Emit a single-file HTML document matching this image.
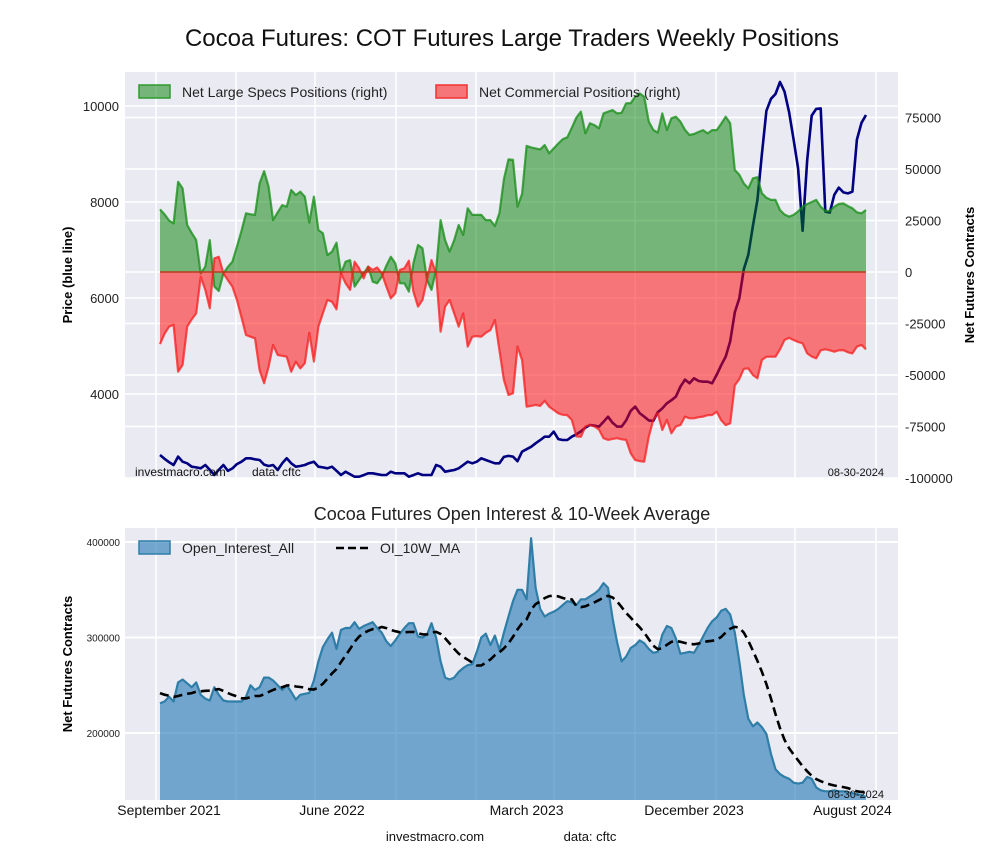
<!DOCTYPE html>
<html><head><meta charset="utf-8"><style>
body{margin:0;background:#fff;}
svg{display:block;font-family:"Liberation Sans",sans-serif;}
</style></head><body>
<svg id="c" width="1000" height="860" viewBox="0 0 1000 860">
<rect x="0" y="0" width="1000" height="860" fill="#fff"/>
<text x="512" y="46" font-size="24" text-anchor="middle" fill="#111">Cocoa Futures: COT Futures Large Traders Weekly Positions</text>
<rect x="125" y="72" width="773" height="406" fill="#eaeaf2"/>
<rect x="125" y="528" width="773" height="272" fill="#eaeaf2"/>
<g id="grid"></g>
<g id="topg"></g>
<g id="botg"></g>
<text x="72" y="275" font-size="13" font-weight="bold" text-anchor="middle" transform="rotate(-90 72 275)">Price (blue line)</text>
<text x="974" y="275" font-size="13" font-weight="bold" text-anchor="middle" transform="rotate(-90 974 275)">Net Futures Contracts</text>
<text x="72" y="664" font-size="13" font-weight="bold" text-anchor="middle" transform="rotate(-90 72 664)">Net Futures Contracts</text>
<text x="512" y="520" font-size="18" text-anchor="middle" fill="#222">Cocoa Futures Open Interest &amp; 10-Week Average</text>
<text x="135" y="476" font-size="12" fill="#111">investmacro.com</text>
<text x="252" y="476" font-size="12" fill="#111">data: cftc</text>
<text x="884" y="476" font-size="11" text-anchor="end" fill="#111">08-30-2024</text>
<text x="884" y="798" font-size="11" text-anchor="end" fill="#111">08-30-2024</text>
<text x="435" y="841" font-size="13" text-anchor="middle" fill="#111">investmacro.com</text>
<text x="590" y="841" font-size="13" text-anchor="middle" fill="#111">data: cftc</text>
<g>
<rect x="139" y="85" width="31" height="13" fill="rgba(0,128,0,0.5)" stroke="#2e9a2e" stroke-width="1.5"/>
<text x="182" y="97" font-size="14" fill="#222">Net Large Specs Positions (right)</text>
<rect x="436" y="85" width="31" height="13" fill="rgba(255,0,0,0.5)" stroke="#f03333" stroke-width="1.5"/>
<text x="479" y="97" font-size="14" fill="#222">Net Commercial Positions (right)</text>
</g>
<g>
<rect x="139" y="541" width="31" height="13" fill="rgba(31,119,180,0.6)" stroke="#2f7ea8" stroke-width="1.5"/>
<text x="182" y="553" font-size="14" fill="#222">Open_Interest_All</text>
<line x1="336" y1="548" x2="368" y2="548" stroke="#000" stroke-width="2.5" stroke-dasharray="8,4"/>
<text x="380" y="553" font-size="14" fill="#222">OI_10W_MA</text>
</g>
</svg>
<script>
const specs=[30.4,28,25,23.6,43.8,40.6,22.8,19,15.5,-0.7,2.6,15.5,-7.1,-9.2,-0.7,2.5,5,12.3,20,28.5,28,27.7,43,49,41.4,25.2,29,32.5,31.7,39.8,37.4,39,36.6,24,36.6,20.4,18.8,8.2,9.9,14.2,-0.7,5,5.8,-7.1,-3.9,-0.7,2.6,-4.7,-5.5,-2.3,3,7.4,4.2,-5.5,-5.5,-9.5,4.2,13.1,11.5,-3.9,-8.7,1,25.2,15.5,9.9,15.5,22.8,18,30.9,27.7,27.7,27.7,25.2,25.2,22.3,28.5,45,54.7,54.4,31.7,38,61.2,60.5,60,59.5,61.6,57.6,60,62.4,64.5,65.4,70,75,77.8,67.3,72.2,71.3,69.7,77,77.8,78.6,77,77.3,81.9,82,85.1,86.7,85.1,73,69,67.6,77,68.9,74.6,75.4,73,69,66.5,67,68,68.9,67.3,68.9,68.9,72,75.4,72.2,49.5,47.2,43,40.6,45.5,46,38.2,36,35,35,30.1,27.9,26.9,27.7,29.4,31.7,33,34,35,31.7,29.6,29.7,31.7,33,33.3,32,30.9,29,28.5,30.1];
const commercial=[-35,-30,-26.5,-25.7,-48.4,-45.1,-26.5,-23,-20.1,-2.3,-8.7,-17.6,6.6,7.4,-0.7,-4,-7.1,-13.6,-22,-30.6,-31.4,-32.2,-47.6,-54,-46,-35.4,-40.3,-40.7,-41.1,-48.4,-43.5,-46.8,-44.3,-29.5,-43.5,-26.5,-20,-13.6,-14.4,-18.1,-0.7,-5.5,-8.7,5,1.8,-3.1,2.6,1,2.2,-0.7,-7,-12.8,-10.4,1,1.8,5.5,-9.5,-16.8,-13.6,-3.9,5.8,-0.7,-29,-16.8,-13.6,-20.1,-26.5,-20.1,-36.2,-31.4,-31.1,-31.4,-29.5,-28.2,-23.3,-37.9,-52.4,-59.7,-58.9,-36.2,-42.7,-65.4,-65,-64.5,-65,-62.5,-65.4,-67,-68.6,-69.3,-69.5,-71.8,-79.8,-80,-75,-74.3,-75,-76.5,-80.7,-81.5,-81,-80.7,-81.2,-81.5,-88,-91.3,-91.8,-92.1,-79.9,-71.8,-68.6,-76.7,-71.8,-78.3,-75,-74.3,-70.2,-71,-71,-70.5,-70.2,-69.5,-69.4,-67.8,-72,-74.3,-73.5,-55,-52,-47,-46.8,-50,-51.6,-42.7,-41.1,-41.1,-41.1,-37.5,-33,-32,-33,-34,-34.6,-39.5,-41,-41.9,-38,-37.5,-38,-38.7,-38,-37.9,-39,-39.5,-36.2,-35.4,-37.5];
const price=[2730,2650,2580,2521,2695,2590,2556,2486,2470,2452,2521,2420,2313,2420,2521,2400,2450,2540,2590,2660,2660,2640,2625,2530,2500,2521,2417,2556,2660,2556,2486,2500,2521,2560,2590,2486,2470,2452,2486,2400,2313,2382,2330,2278,2278,2310,2348,2348,2330,2313,2313,2382,2348,2348,2348,2278,2310,2348,2313,2313,2313,2521,2486,2382,2400,2417,2452,2520,2590,2556,2590,2660,2625,2590,2556,2556,2690,2710,2695,2600,2800,2850,2900,2973,3040,3111,3111,3216,3060,3042,3042,3111,3160,3220,3300,3355,3340,3320,3420,3528,3400,3320,3320,3450,3650,3737,3600,3530,3450,3440,3620,3700,3806,3870,3945,4153,4300,4222,4327,4270,4257,4257,4222,4400,4600,4780,5100,5700,5993,6600,6900,7500,8042,9000,9900,10150,10250,10500,10300,9870,9300,8700,7400,8875,9800,9940,9950,7800,7780,8150,8300,8200,8180,8215,9300,9650,9812];
const openInterest=[231,233,238,233,253,256,252,248,253,240,236,234,248,240,234,233,233,233,233,238,250,245,248,258,258,255,250,245,250,243,235,240,241,242,255,275,290,298,305,288,308,310,310,316,309,312,314,316,310,305,296,291,297,304,310,315,315,301,300,303,315,300,275,258,256,258,264,268,271,272,285,300,304,292,302,287,305,322,338,350,350,340,404,352,330,322,325,327,330,334,338,337,334,340,340,343,346,350,357,352,320,295,275,280,289,292,297,294,288,284,285,303,312,310,299,283,284,285,284,292,301,310,317,321,328,330,324,305,275,240,215,207,211,206,199,178,162,157,154,152,148,147,148,154,152,143,140,139,139,140,139,139,138,137,136,135,133];
const oiPrior=[250,248,246,244,243,242,240,238,236];
const xTickLabels=["September 2021","June 2022","March 2023","December 2023","August 2024"];
const xTickWeeks=[2,38,81,118,153];
const priceTicks=[4000,6000,8000,10000];
const netTicks=[-100000,-75000,-50000,-25000,0,25000,50000,75000];
const oiTicks=[200000,300000,400000];

(function(){
const NS="http://www.w3.org/2000/svg";
const xW=w=>160+w*706/156;
const yP=p=>106+(10000-p)*0.048;
const yN=v=>272-v*51.5/25;
const yO=v=>542+(400-v)*0.955;
function mk(tag,attrs,parent){const e=document.createElementNS(NS,tag);for(const k in attrs)e.setAttribute(k,attrs[k]);parent.appendChild(e);return e;}
const gridG=document.getElementById('grid'),topG=document.getElementById('topg'),botG=document.getElementById('botg');

const vgrid=[156,236,315,396,476,554,635,716,795,876];
vgrid.forEach(x=>{
  const l1=mk('line',{x1:x,y1:72,x2:x,y2:478,stroke:'#fff','stroke-width':1.5},gridG);
  
  
  const l2=mk('line',{x1:x,y1:528,x2:x,y2:800,stroke:'#fff','stroke-width':1.5},gridG);
  
  
});
priceTicks.forEach(p=>{
  const y=yP(p);
  const l=mk('line',{x1:125,y1:y,x2:898,y2:y,stroke:'#fff','stroke-width':1.5},gridG);
  
  
  const t=mk('text',{x:119,y:y+5,'font-size':13,'text-anchor':'end',fill:'#222'},gridG);
  t.textContent=p;
  
  
});
netTicks.forEach(v=>{
  const y=yN(v/1000);
  const l=mk('line',{x1:125,y1:y,x2:898,y2:y,stroke:'#fff','stroke-width':1.5},gridG);
  
  
  const t=mk('text',{x:905,y:y+5,'font-size':13,fill:'#222'},gridG);
  t.textContent=v;
  
  
});
oiTicks.forEach(v=>{
  const y=yO(v/1000);
  const l=mk('line',{x1:125,y1:y,x2:898,y2:y,stroke:'#fff','stroke-width':2},gridG);
  
  
  const t=mk('text',{x:120,y:y+4,'font-size':10,'text-anchor':'end',fill:'#222'},gridG);
  t.textContent=v;
  
  
});
xTickLabels.forEach((s,i)=>{
  const t=mk('text',{x:xW(xTickWeeks[i]),y:815,'font-size':14,'text-anchor':'middle',fill:'#111'},gridG);
  t.textContent=s;
  
  
});

const pricePts=price.map((p,i)=>xW(i).toFixed(1)+','+yP(p).toFixed(1)).join(' ');
const pl=mk('polyline',{points:pricePts,fill:'none',stroke:'#000080','stroke-width':2.6,'stroke-linejoin':'round'},topG);


function area(arr,fill,stroke,name){
  const n=arr.length;
  const pts=arr.map((v,i)=>xW(i).toFixed(1)+','+yN(v).toFixed(1));
  const poly=mk('polygon',{points:xW(0)+','+yN(0)+' '+pts.join(' ')+' '+xW(n-1)+','+yN(0),fill:fill,stroke:'none'},topG);
  
  
  const ln=mk('polyline',{points:pts.join(' '),fill:'none',stroke:stroke,'stroke-width':2.2,'stroke-linejoin':'round'},topG);
  
  
}
area(specs,'rgba(0,128,0,0.5)','rgba(20,140,20,0.75)','net-specs');
area(commercial,'rgba(255,0,0,0.5)','rgba(245,30,30,0.75)','net-commercial');
const zl=mk('line',{x1:xW(0),y1:yN(0),x2:xW(specs.length-1),y2:yN(0),stroke:'#b83a1c','stroke-width':1.6},topG);



const nO=openInterest.length;
const oiPts=openInterest.map((v,i)=>xW(i).toFixed(1)+','+yO(v).toFixed(1));
const oa=mk('polygon',{points:xW(0)+',800 '+oiPts.join(' ')+' '+xW(nO-1)+',800',fill:'rgba(31,119,180,0.6)',stroke:'none'},botG);


const ol=mk('polyline',{points:oiPts.join(' '),fill:'none',stroke:'#2f7ea8','stroke-width':2.2,'stroke-linejoin':'round'},botG);


const full=oiPrior.concat(openInterest);
const ma=openInterest.map((v,i)=>{let s=0;for(let k=i;k<i+10;k++)s+=full[k];return s/10;});
const mpts=ma.map((v,i)=>xW(i).toFixed(1)+','+yO(v).toFixed(1)).join(' ');
const ml=mk('polyline',{points:mpts,fill:'none',stroke:'#000','stroke-width':2.6,'stroke-dasharray':'9,5'},botG);


})();
</script>
</body></html>
